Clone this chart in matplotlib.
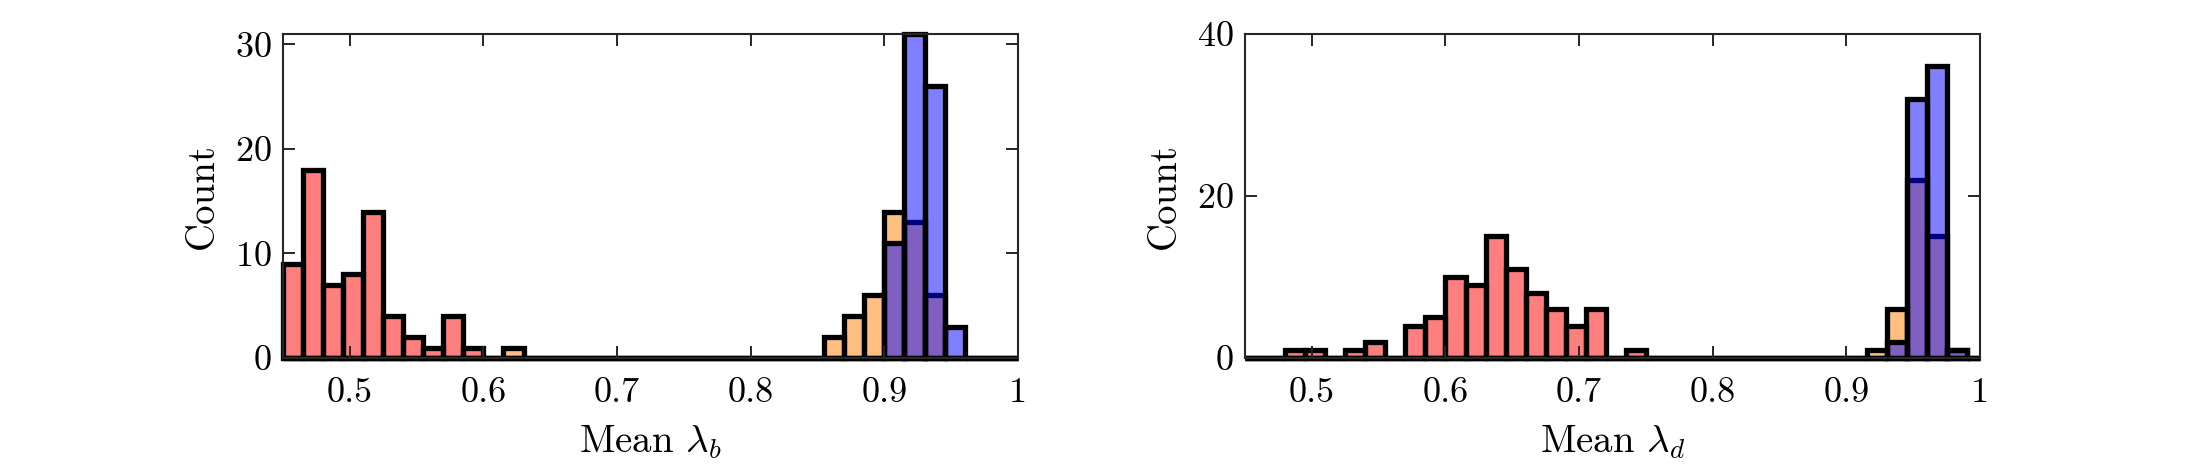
import numpy as np
import matplotlib
matplotlib.use("Agg")
import matplotlib.pyplot as plt

plt.rcParams['font.family'] = 'serif'
plt.rcParams['font.serif'] = ['cmr10']
plt.rcParams['mathtext.fontset'] = 'cm'
plt.rcParams['axes.formatter.use_mathtext'] = True

# histogram bins: 0.45 to 1 in steps of 0.015 (last bin clipped at 1)
bin_edges = np.append(0.45 + 0.015 * np.arange(37), 1.0)

# counts per bin, lambda_b panel
b_red = [9, 18, 7, 8, 14, 4, 2, 1, 4, 1] + [0] * 27
b_orange = [0] * 11 + [1] + [0] * 15 + [2, 4, 6, 14, 13, 6] + [0] * 4
b_blue = [0] * 30 + [11, 31, 26, 3] + [0] * 3

# counts per bin, lambda_d panel
d_red = [0, 0, 1, 1, 0, 1, 2, 0, 4, 5, 10, 9, 15, 11, 8, 6, 4, 6, 0, 1] + [0] * 17
d_orange = [0] * 31 + [1, 6, 22, 15, 1, 0]
d_blue = [0] * 32 + [2, 32, 36, 1, 0]

colors = [(1, 0, 0, 0.5), (1, 0.5, 0, 0.5), (0, 0, 1, 0.5)]
xticks = [0.5, 0.6, 0.7, 0.8, 0.9, 1.0]
xticklabels = ['0.5', '0.6', '0.7', '0.8', '0.9', '1']

fig = plt.figure(figsize=(21.88, 4.69), dpi=100)
ax1 = fig.add_axes([0.1293, 0.2367, 0.336, 0.6908])
ax2 = fig.add_axes([0.569, 0.2367, 0.336, 0.6908])

panels = [
    (ax1, [b_red, b_orange, b_blue], [0, 31], [0, 10, 20, 30], r'Mean $\lambda_b$'),
    (ax2, [d_red, d_orange, d_blue], [0, 40], [0, 20, 40], r'Mean $\lambda_d$'),
]

widths = np.diff(bin_edges)
for ax, series, ylim, yticks, xlabel in panels:
    for counts, c in zip(series, colors):
        ax.bar(bin_edges[:-1], counts, width=widths, align='edge',
               facecolor=c, edgecolor='black', linewidth=3.8, clip_on=False)
    ax.set_xlim(0.45, 1.0)
    ax.set_ylim(*ylim)
    ax.set_xticks(xticks)
    ax.set_xticklabels(xticklabels)
    ax.set_yticks(yticks)
    ax.tick_params(direction='in', top=True, right=True, length=8.5, width=1.4,
                   labelsize=26, color='#262626')
    ax.tick_params(axis='x', pad=14)
    ax.tick_params(axis='y', pad=8)
    for s in ax.spines.values():
        s.set_color('#262626')
        s.set_linewidth(1.5)
    ax.set_xlabel(xlabel, fontsize=28, labelpad=10)
    ax.set_ylabel('Count', fontsize=28, labelpad=10)

fig.savefig('out.png', dpi=100)
